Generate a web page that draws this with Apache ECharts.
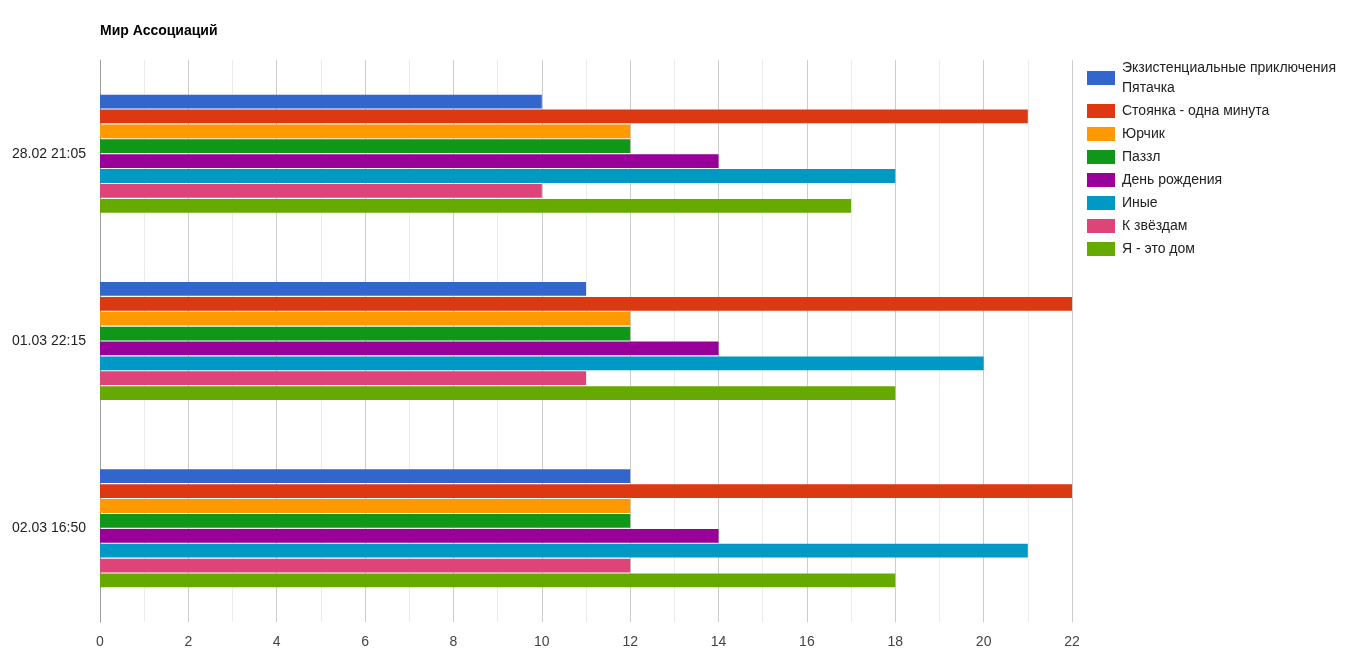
<!DOCTYPE html>
<html>
<head>
<meta charset="utf-8">
<script src="https://cdn.jsdelivr.net/npm/echarts@6/dist/echarts.min.js"></script>
<style>
  html, body { margin: 0; padding: 0; background: #fff; }
  #chart { width: 1352px; height: 657px; }
</style>
</head>
<body>
<div id="chart"></div>
<script>
// категории (моменты голосования)
var categories = ['28.02 21:05', '01.03 22:15', '02.03 16:50'];
// названия работ
var seriesNames = ['Экзистенциальные приключения Пятачка', 'Стоянка - одна минута', 'Юрчик', 'Паззл',
  'День рождения', 'Иные', 'К звёздам', 'Я - это дом'];
// значения по каждой работе
var piglet = [10, 11, 12];
var parking = [21, 22, 22];
var yurchik = [12, 12, 12];
var puzzle = [12, 12, 12];
var birthday = [14, 14, 14];
var others = [18, 20, 21];
var toStars = [10, 11, 12];
var home = [17, 18, 18];
var values = [piglet, parking, yurchik, puzzle, birthday, others, toStars, home];
var colors = ['#3366cc', '#dc3912', '#ff9900', '#109618', '#990099', '#0099c6', '#dd4477', '#66aa00'];

var FONT = 'Arial, "Liberation Sans", sans-serif';

// перенос длинных подписей легенды по словам (не больше 28 символов в строке)
function wrapName(name) {
  var words = name.split(' ');
  var lines = [];
  var line = '';
  for (var i = 0; i < words.length; i++) {
    var next = line ? line + ' ' + words[i] : words[i];
    if (next.length > 28 && line) {
      lines.push(line);
      line = words[i];
    } else {
      line = next;
    }
  }
  lines.push(line);
  return lines.join('\n');
}

var chart = echarts.init(document.getElementById('chart'));

var series = [];
for (var i = 0; i < seriesNames.length; i++) {
  series.push({
    name: seriesNames[i],
    type: 'bar',
    data: values[i],
    barGap: '8%',
    barCategoryGap: '37%',
    itemStyle: { color: colors[i] }
  });
}

chart.setOption({
  animation: false,
  color: colors,
  title: {
    text: 'Мир Ассоциаций',
    left: 100,
    top: 24,
    padding: 0,
    textStyle: { fontFamily: FONT, fontSize: 14, fontWeight: 'bold', color: '#000' }
  },
  legend: {
    orient: 'vertical',
    left: 1087,
    top: 58,
    padding: 0,
    itemWidth: 28,
    itemHeight: 14,
    itemGap: 3,
    icon: 'rect',
    align: 'left',
    formatter: wrapName,
    textStyle: {
      fontFamily: FONT,
      fontSize: 14,
      color: '#222',
      lineHeight: 20,
      padding: [0, 0, 0, 2]
    }
  },
  grid: { left: 100, right: 280, top: 60, bottom: 35, containLabel: false },
  xAxis: {
    type: 'value',
    min: 0,
    max: 22,
    interval: 2,
    axisLine: { show: false },
    axisTick: { show: false },
    axisLabel: { fontFamily: FONT, fontSize: 14, color: '#444', margin: 13 },
    splitLine: { show: true, lineStyle: { color: '#cccccc', width: 1 } },
    minorTick: { show: false, splitNumber: 2 },
    minorSplitLine: { show: true, lineStyle: { color: '#ebebeb', width: 1 } }
  },
  yAxis: {
    type: 'category',
    data: categories,
    inverse: true,
    axisLine: { show: true, lineStyle: { color: '#9e9e9e', width: 1 } },
    axisTick: { show: false },
    axisLabel: { fontFamily: FONT, fontSize: 14, color: '#222', margin: 14 }
  },
  series: series
});
</script>
</body>
</html>
